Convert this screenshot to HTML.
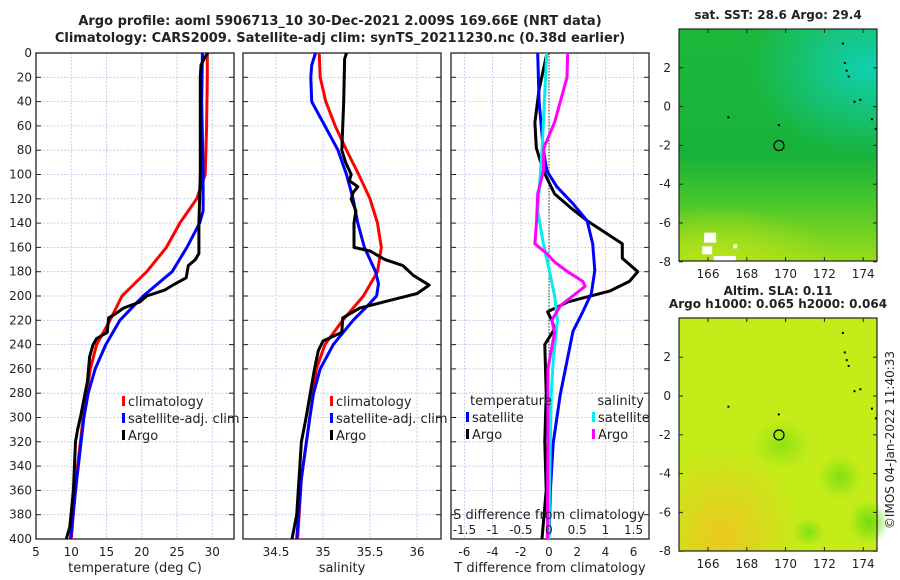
<!DOCTYPE html>
<html><head><meta charset="utf-8">
<style>
body{margin:0;background:#fff;}
svg{display:block;font-family:"DejaVu Sans","Liberation Sans",sans-serif;}
</style></head>
<body>
<svg id="c" width="900" height="580" viewBox="0 0 900 580">
<defs>
<linearGradient id="sstBase" x1="0" y1="0" x2="0" y2="1">
<stop offset="0" stop-color="#1cb83c"/><stop offset="0.55" stop-color="#18b23a"/><stop offset="0.72" stop-color="#40c42c"/><stop offset="1" stop-color="#98dc1c"/>
</linearGradient>
<radialGradient id="sstTeal" cx="0.95" cy="0.25" r="0.6"><stop offset="0" stop-color="#10d0b0"/><stop offset="1" stop-color="#10d0b0" stop-opacity="0"/></radialGradient>
<radialGradient id="sstYellow" cx="0.2" cy="1" r="0.6"><stop offset="0" stop-color="#b8e418"/><stop offset="1" stop-color="#b8e418" stop-opacity="0"/></radialGradient>
<radialGradient id="slaOrange" cx="0.22" cy="0.95" r="0.4"><stop offset="0" stop-color="#ecc820"/><stop offset="1" stop-color="#ecc820" stop-opacity="0"/></radialGradient>
<radialGradient id="slaGreen" cx="0.5" cy="0.5" r="0.5"><stop offset="0" stop-color="#70dc10"/><stop offset="1" stop-color="#70dc10" stop-opacity="0"/></radialGradient>
</defs>
</svg>
<script>
// ---- data ----
const tDepth = [0,5,20,60,100,120,140,160,180,200,220,240,260,280,300,350,400];
const tClim  = [29.3,29.3,29.3,29.2,29.0,27.8,25.4,23.5,20.7,17.2,15.5,13.6,12.7,12.2,11.7,10.7,10.0];
const tSatDepth = [0,40,100,130,140,160,180,200,220,240,260,280,300,350,400];
const tSat  = [28.6,28.5,28.7,28.7,28.2,26.4,24.3,20.2,16.9,14.9,13.4,12.4,11.8,10.8,9.9];
const tArgoDepth = [0,3,10,20,60,100,140,160,165,170,175,185,190,195,200,205,210,215,218,230,235,240,250,270,300,310,320,360,390,400];
const tArgo = [29.4,29.0,28.4,28.3,28.3,28.3,28.1,28.1,28.1,27.6,26.6,26.3,24.7,23.3,20.7,19.7,17.4,16.2,15.3,15.1,13.6,13.1,12.6,12.3,11.3,10.9,10.6,10.3,9.8,9.3];

const sClimDepth = [0,20,40,60,80,100,120,140,160,180,200,220,240,260,300,350,400];
const sClim = [34.96,34.97,35.03,35.13,35.25,35.38,35.5,35.58,35.62,35.58,35.43,35.21,35.02,34.93,34.86,34.77,34.73];
const sSatDepth = [0,10,20,40,60,80,100,120,140,160,180,190,200,210,220,240,260,280,300,350,400];
const sSat = [34.92,34.88,34.87,34.88,35.02,35.16,35.25,35.32,35.37,35.44,35.56,35.59,35.57,35.45,35.32,35.11,34.97,34.9,34.86,34.77,34.72];
const sArgoDepth = [0,5,40,80,90,100,105,110,115,120,130,140,160,163,170,175,183,191,198,205,210,218,230,237,245,260,300,320,380,400];
const sArgo = [35.25,35.23,35.22,35.2,35.24,35.3,35.28,35.37,35.32,35.3,35.35,35.33,35.33,35.5,35.66,35.85,35.96,36.13,36.0,35.64,35.39,35.21,35.2,35.0,34.95,34.91,34.82,34.77,34.72,34.67];

const dTSatDepth = [0,40,80,97,110,124,138,157,179,198,213,229,281,321,360,400];
const dTSat = [-0.8,-0.7,-0.4,-0.15,0.55,1.7,2.7,3.1,3.25,3.0,2.4,1.7,0.8,0.3,0.1,0.0];
const dTArgoDepth = [0,3,30,57,78,97,116,127,138,157,169,180,188,196,205,213,220,227,240,280,320,360,400];
const dTArgo = [-0.1,-0.2,-0.7,-1.0,-0.9,-0.4,0.4,1.5,2.7,5.2,5.2,6.3,5.7,4.3,1.3,-0.1,0.2,0.4,-0.3,-0.2,-0.3,-0.2,-0.5];
const dSSatDepth = [0,78,110,130,157,180,200,220,250,280,350,400];
const dSSat = [-0.04,-0.12,-0.17,-0.2,-0.1,0.01,0.1,0.15,0.08,0.04,0.01,0.0];
const dSArgoDepth = [0,20,57,78,97,116,138,157,165,172,180,188,192,200,208,220,230,260,320,400];
const dSArgo = [0.33,0.32,0.1,-0.09,-0.1,-0.2,-0.22,-0.25,-0.04,0.1,0.33,0.6,0.64,0.42,0.2,0.05,0.1,-0.02,-0.02,-0.03];

const depthTicks = [0,20,40,60,80,100,120,140,160,180,200,220,240,260,280,300,320,340,360,380,400];
const tTicks = [5,10,15,20,25,30];
const sTicks = [34.5,35,35.5,36];
const dTTicks = [-6,-4,-2,0,2,4,6];
const dSTicks = [-1.5,-1,-0.5,0,0.5,1,1.5];
const lonTicks = [166,168,170,172,174];
const latTicks = [2,0,-2,-4,-6,-8];

// ---- helpers ----
const svg = document.getElementById('c');
const NS = 'http://www.w3.org/2000/svg';
function mk(tag, attrs, parent){const e=document.createElementNS(NS,tag);for(const k in attrs)e.setAttribute(k,attrs[k]);(parent||svg).appendChild(e);return e;}
function txt(x,y,s,size,anchor,weight,parent){const e=mk('text',{x:x,y:y,'font-size':size,'text-anchor':anchor||'middle','font-weight':weight||'normal',fill:'#222'},parent);e.textContent=s;return e;}

const Y0=53, Y1=539;
const yD = d => Y0 + d*(Y1-Y0)/400;
const xT = v => 36 + (v-5)*7.05;
const xS = v => 323 + (v-35)*94;
const xDT = v => 549 + v*14.1;
const xDS = v => 549 + v*4*14.1;

function panel(name,x0,x1,ticks,xf,labels,xlabel,showY){
  const g=mk('g',{});
  
  
  for(const d of depthTicks){ if(d===0||d===400)continue; mk('line',{x1:x0,x2:x1,y1:yD(d),y2:yD(d),stroke:'#b8c4e8','stroke-width':0.8,'stroke-dasharray':'2,1.5'},g);}
  for(const t of ticks){ const x=xf(t); if(x<=x0||x>=x1)continue; mk('line',{x1:x,x2:x,y1:Y0,y2:Y1,stroke:'#b8c4e8','stroke-width':0.8,'stroke-dasharray':'2,1.5'},g);}
  mk('rect',{x:x0,y:Y0,width:x1-x0,height:Y1-Y0,fill:'none',stroke:'#222','stroke-width':1.3},g);
  for(const d of depthTicks){ mk('line',{x1:x0,x2:x0+5,y1:yD(d),y2:yD(d),stroke:'#222'},g); mk('line',{x1:x1-5,x2:x1,y1:yD(d),y2:yD(d),stroke:'#222'},g);
    if(showY){const t=txt(x0-4,yD(d)+4,String(d),12,'end',null,g);}}
  if(labels){ for(const t of ticks){ const e=txt(xf(t),Y1+17,String(t),12,'middle',null,g);   } }
  const xl=txt((x0+x1)/2,Y1+33,xlabel,13,'middle',null,g);
  
  
  return g;
}
function line(name,depths,vals,xf,color,w){
  let d='';for(let i=0;i<depths.length;i++){d+=(i?'L':'M')+xf(vals[i]).toFixed(1)+','+yD(depths[i]).toFixed(1);}
  const p=mk('path',{d:d,fill:'none',stroke:color,'stroke-width':w||3,'stroke-linejoin':'round'});
  
  
}
function legend(x,y,color,label,name){
  const g=mk('g',{});
  
  
  mk('rect',{x:x,y:y-10,width:3,height:10,fill:color},g);
  txt(x+6,y,label,13,'start',null,g);
}

// titles
const t1=txt(340,25,'Argo profile: aoml 5906713_10 30-Dec-2021 2.009S 169.66E (NRT data)',13,'middle','bold');


const t2=txt(340,42,'Climatology: CARS2009. Satellite-adj clim: synTS_20211230.nc (0.38d earlier)',13,'middle','bold');



// panel 1
panel('temperature-panel',36,234,tTicks,xT,true,'temperature (deg C)',true);
line('temp-climatology-line',tDepth,tClim,xT,'#f00');
line('temp-satellite-line',tSatDepth,tSat,xT,'#00f');
line('temp-argo-line',tArgoDepth,tArgo,xT,'#000');
legend(122,406,'#f00','climatology','legend-climatology');
legend(122,423,'#00f','satellite-adj. clim','legend-satellite');
legend(122,440,'#000','Argo','legend-argo');

// panel 2
panel('salinity-panel',243,441,sTicks,xS,true,'salinity',false);
line('sal-climatology-line',sClimDepth,sClim,xS,'#f00');
line('sal-satellite-line',sSatDepth,sSat,xS,'#00f');
line('sal-argo-line',sArgoDepth,sArgo,xS,'#000');
legend(330,406,'#f00','climatology','legend-climatology-s');
legend(330,423,'#00f','satellite-adj. clim','legend-satellite-s');
legend(330,440,'#000','Argo','legend-argo-s');

// panel 3
panel('difference-panel',451,649,dTTicks,xDT,true,'T difference from climatology',false);
const zl=mk('line',{x1:xDT(0),x2:xDT(0),y1:Y0,y2:Y1,stroke:'#333','stroke-width':1,'stroke-dasharray':'1.5,1.5'});


line('dt-argo-line',dTArgoDepth,dTArgo,xDT,'#000');
line('dt-satellite-line',dTSatDepth,dTSat,xDT,'#00f');
line('ds-satellite-line',dSSatDepth,dSSat,xDS,'#0ee');
line('ds-argo-line',dSArgoDepth,dSArgo,xDS,'#f0f');
const lt=txt(470,405,'temperature',13,'start');


const ls=txt(644,405,'salinity',13,'end');


legend(466,422,'#00f','satellite','legend-t-satellite');
legend(466,439,'#000','Argo','legend-t-argo');
legend(592,422,'#0ee','satellite','legend-s-satellite');
legend(592,439,'#f0f','Argo','legend-s-argo');
const sl=txt(549,519,'S difference from climatology',13,'middle');


for(const t of dSTicks){const e=txt(xDS(t),534,String(t),12,'middle');
  
  }

// maps
function map(name,top,bottom,latTop,title,bg){
  const g=mk('g',{});
  
  
  const x0=679,x1=877;
  const xL=v=>708+(v-166)*19.4;
  const yL=v=>top+(latTop-v)*19.4;
  bg(g,x0,top,x1-x0,bottom-top,xL,yL);
  const isl=[[172.9,3.3],[173.0,2.3],[173.1,1.9],[173.2,1.6],[173.5,0.3],[173.8,0.4],[174.4,-0.6],[174.6,-1.1],[167,-0.5],[169.6,-0.9]];
  for(const p of isl){mk('rect',{x:xL(p[0]),y:yL(p[1]),width:2,height:2,fill:'#000'},g);}
  const c=mk('circle',{cx:xL(169.66),cy:yL(-2.009),r:5,fill:'none',stroke:'#000','stroke-width':1.2},g);
  
  
  mk('rect',{x:x0,y:top,width:x1-x0,height:bottom-top,fill:'none',stroke:'#222','stroke-width':1.2},g);
  for(const la of latTicks){const y=yL(la);mk('line',{x1:x0,x2:x0+4,y1:y,y2:y,stroke:'#222'},g);mk('line',{x1:x1-4,x2:x1,y1:y,y2:y,stroke:'#222'},g);
    txt(x0-8,y+4,String(la),12,'end',null,g);}
  for(const lo of lonTicks){const x=xL(lo);mk('line',{x1:x,x2:x,y1:bottom,y2:bottom-4,stroke:'#222'},g);mk('line',{x1:x,x2:x,y1:top,y2:top+4,stroke:'#222'},g);
    txt(x,bottom+17,String(lo),12,'middle',null,g);}
  txt(778,top-10,title,12,'middle','bold',g);
  return g;
}
map('sst-map',29,261,4.0,'sat. SST: 28.6 Argo: 29.4',function(g,x,y,w,h,xL,yL){
  mk('rect',{x:x,y:y,width:w,height:h,fill:'url(#sstBase)'},g);
  mk('rect',{x:x,y:y,width:w,height:h*0.65,fill:'url(#sstTeal)'},g);
  mk('rect',{x:x,y:y+h*0.6,width:w,height:h*0.4,fill:'url(#sstYellow)'},g);
  mk('rect',{x:xL(165.8),y:yL(-6.5),width:12,height:10,fill:'#fff'},g);
  mk('rect',{x:xL(165.7),y:yL(-7.2),width:10,height:8,fill:'#fff'},g);
  mk('rect',{x:xL(166.3),y:yL(-7.7),width:22,height:yL(-8)-yL(-7.7),fill:'#fff'},g);
  mk('rect',{x:xL(167.3),y:yL(-7.1),width:4,height:4,fill:'#fff'},g);
});
const st=txt(778,295,'Altim. SLA: 0.11',12,'middle','bold');


map('sla-map',318,551,4.02,'Argo h1000: 0.065 h2000: 0.064',function(g,x,y,w,h,xL,yL){
  mk('rect',{x:x,y:y,width:w,height:h,fill:'#c4ec18'},g);
  mk('rect',{x:x,y:y,width:w,height:h,fill:'url(#slaOrange)'},g);
  mk('ellipse',{cx:xL(169.8),cy:yL(-2.5),rx:30,ry:25,fill:'url(#slaGreen)',opacity:0.6},g);
  mk('ellipse',{cx:xL(172.8),cy:yL(-4.2),rx:22,ry:22,fill:'url(#slaGreen)',opacity:0.8},g);
  mk('ellipse',{cx:xL(174.3),cy:yL(-6.5),rx:20,ry:22,fill:'url(#slaGreen)'},g);
  mk('ellipse',{cx:xL(171.2),cy:yL(-7),rx:16,ry:14,fill:'url(#slaGreen)',opacity:0.8},g);
});
const cp=txt(0,0,'©IMOS 04-Jan-2022 11:40:33',12,'middle');
cp.setAttribute('transform','translate(894,440) rotate(-90)');


</script>
</body></html>
